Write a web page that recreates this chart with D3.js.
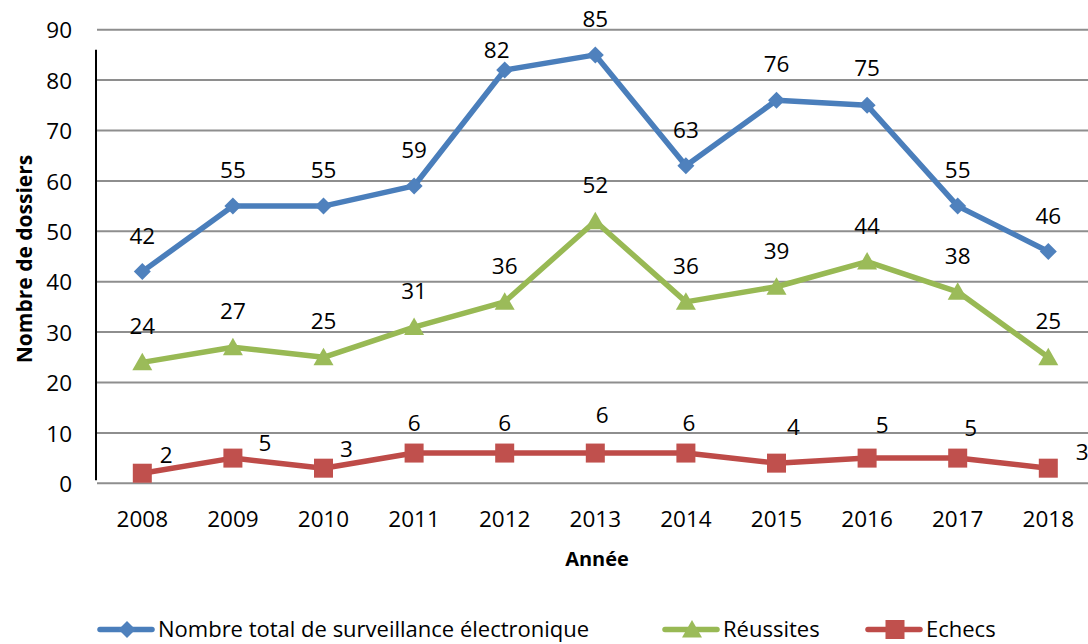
<!DOCTYPE html>
<html>
<head>
<meta charset="utf-8">
<script src="https://cdn.jsdelivr.net/npm/d3@7"></script>
<style>
  html, body { margin: 0; padding: 0; background: #fff; }
  svg { display: block; font-family: "Open Sans", Lato, sans-serif; }
</style>
</head>
<body>
<svg id="chart" width="1088" height="644"></svg>
<script>
// ---- data ----
const years = ["2008","2009","2010","2011","2012","2013","2014","2015","2016","2017","2018"];
const totalValues = [42, 55, 55, 59, 82, 85, 63, 76, 75, 55, 46];
const reussitesValues = [24, 27, 25, 31, 36, 52, 36, 39, 44, 38, 25];
const echecsValues = [2, 5, 3, 6, 6, 6, 6, 4, 5, 5, 3];
const yTicks = [0, 10, 20, 30, 40, 50, 60, 70, 80, 90];
const seriesNames = ["Nombre total de surveillance électronique", "Réussites", "Echecs"];

// label nudges (layout only, in px relative to the point)
const totalNudge = [[0,-36],[0,-36],[0,-36],[0,-36],[-8,-20],[0,-36],[0,-36],[0,-36],[0,-37],[0,-36],[0,-36]];
const reussitesNudge = [[0,-36],[0,-36],[0,-36],[0,-36],[0,-36],[0,-36],[0,-36],[0,-36],[0,-36],[0,-36],[0,-36]];
const echecsNudge = [[24,-18],[32,-15],[23,-19],[0,-30],[0,-30],[7,-38],[3,-30],[17,-36],[15,-33],[13,-30],[34,-16]];

const series = [
  { name: seriesNames[0], values: totalValues, nudge: totalNudge, line: "#4A7EBB", fill: "#4F81BD", marker: "diamond" },
  { name: seriesNames[1], values: reussitesValues, nudge: reussitesNudge, line: "#98B954", fill: "#9BBB59", marker: "triangle" },
  { name: seriesNames[2], values: echecsValues, nudge: echecsNudge, line: "#BE4B48", fill: "#C0504D", marker: "square" }
];

const FONT = "'Open Sans', Lato, sans-serif";
const FS = 22.5;
const svg = d3.select("#chart");

const x = d3.scaleBand().domain(years).range([97, 97 + 11 * 90.6]).padding(0);
const cx = d => x(d) + x.bandwidth() / 2;
const y = d3.scaleLinear().domain([0, 90]).range([483.3, 29.7]);

// gridlines
const grid = svg.append("g");
grid.selectAll("line").data(yTicks).join("line")
  .attr("x1", 97).attr("x2", 1100)
  .attr("y1", d => y(d)).attr("y2", d => y(d))
  .attr("stroke", "#8E8E8E").attr("stroke-width", 2);

// y axis labels via d3 axis; axis line drawn separately
const yAxis = d3.axisLeft(y).tickValues(yTicks).tickSize(0).tickPadding(0);
const gy = svg.append("g").attr("transform", "translate(72,0)").call(yAxis);
gy.select(".domain").remove();
gy.selectAll("text").attr("font-size", FS).attr("font-family", FONT)
  .attr("fill", "#000").attr("dy", "0.36em").attr("x", 0);

svg.append("line").attr("x1", 96).attr("x2", 96).attr("y1", y(86)).attr("y2", y(0.6))
  .attr("stroke", "#000").attr("stroke-width", 2);

// x axis labels
const xAxis = d3.axisBottom(x).tickSize(0).tickPadding(0);
const gx = svg.append("g").attr("transform", "translate(0,518.5)").call(xAxis);
gx.select(".domain").remove();
gx.selectAll("text").attr("font-size", FS).attr("font-family", FONT)
  .attr("fill", "#000").attr("dy", "0.36em").attr("y", 0);

// axis titles
svg.append("text").attr("x", 597).attr("y", 566).attr("text-anchor", "middle")
  .attr("font-size", 20).attr("font-weight", "bold").text("Année");
svg.append("text").attr("transform", "translate(32,259) rotate(-90)").attr("text-anchor", "middle")
  .attr("font-size", 21).attr("font-weight", "bold").text("Nombre de dossiers");

function drawMarker(g, type, fill) {
  if (type === "diamond") {
    g.append("path").attr("d", "M0,-8.5L8.5,0L0,8.5L-8.5,0Z").attr("fill", fill);
  } else if (type === "triangle") {
    g.append("path").attr("d", "M0,-9.5L10,8L-10,8Z").attr("fill", fill);
  } else {
    g.append("rect").attr("x", -9.5).attr("y", -9.5).attr("width", 19).attr("height", 19).attr("fill", fill);
  }
}

const lineGen = d3.line().x((d, i) => cx(years[i])).y(d => y(d));

series.forEach(s => {
  const g = svg.append("g");
  g.append("path").datum(s.values).attr("d", lineGen)
    .attr("fill", "none").attr("stroke", s.line).attr("stroke-width", 5.5)
    .attr("stroke-linejoin", "round");
  s.values.forEach((v, i) => {
    const m = g.append("g").attr("transform", `translate(${cx(years[i])},${y(v)})`);
    drawMarker(m, s.marker, s.fill);
  });
  g.selectAll("text.lbl").data(s.values).join("text").attr("class", "lbl")
    .attr("x", (d, i) => cx(years[i]) + s.nudge[i][0])
    .attr("y", (d, i) => y(d) + s.nudge[i][1])
    .attr("dy", "0.36em").attr("text-anchor", "middle")
    .attr("font-size", FS).attr("fill", "#000").text(d => d);
});

// legend
const legendItems = [
  { s: series[0], x0: 100 },
  { s: series[1], x0: 665 },
  { s: series[2], x0: 868 }
];
const lg = svg.append("g");
legendItems.forEach(it => {
  const g = lg.append("g").attr("transform", `translate(${it.x0},629.5)`);
  g.append("line").attr("x1", 0).attr("x2", 52).attr("y1", 0).attr("y2", 0)
    .attr("stroke", it.s.line).attr("stroke-width", 5.5).attr("stroke-linecap", "round");
  const m = g.append("g").attr("transform", "translate(27,0)");
  drawMarker(m, it.s.marker, it.s.fill);
  g.append("text").attr("x", 58).attr("y", 0).attr("dy", "0.36em")
    .attr("font-size", 22).attr("fill", "#000").text(it.s.name);
});
</script>
</body>
</html>
